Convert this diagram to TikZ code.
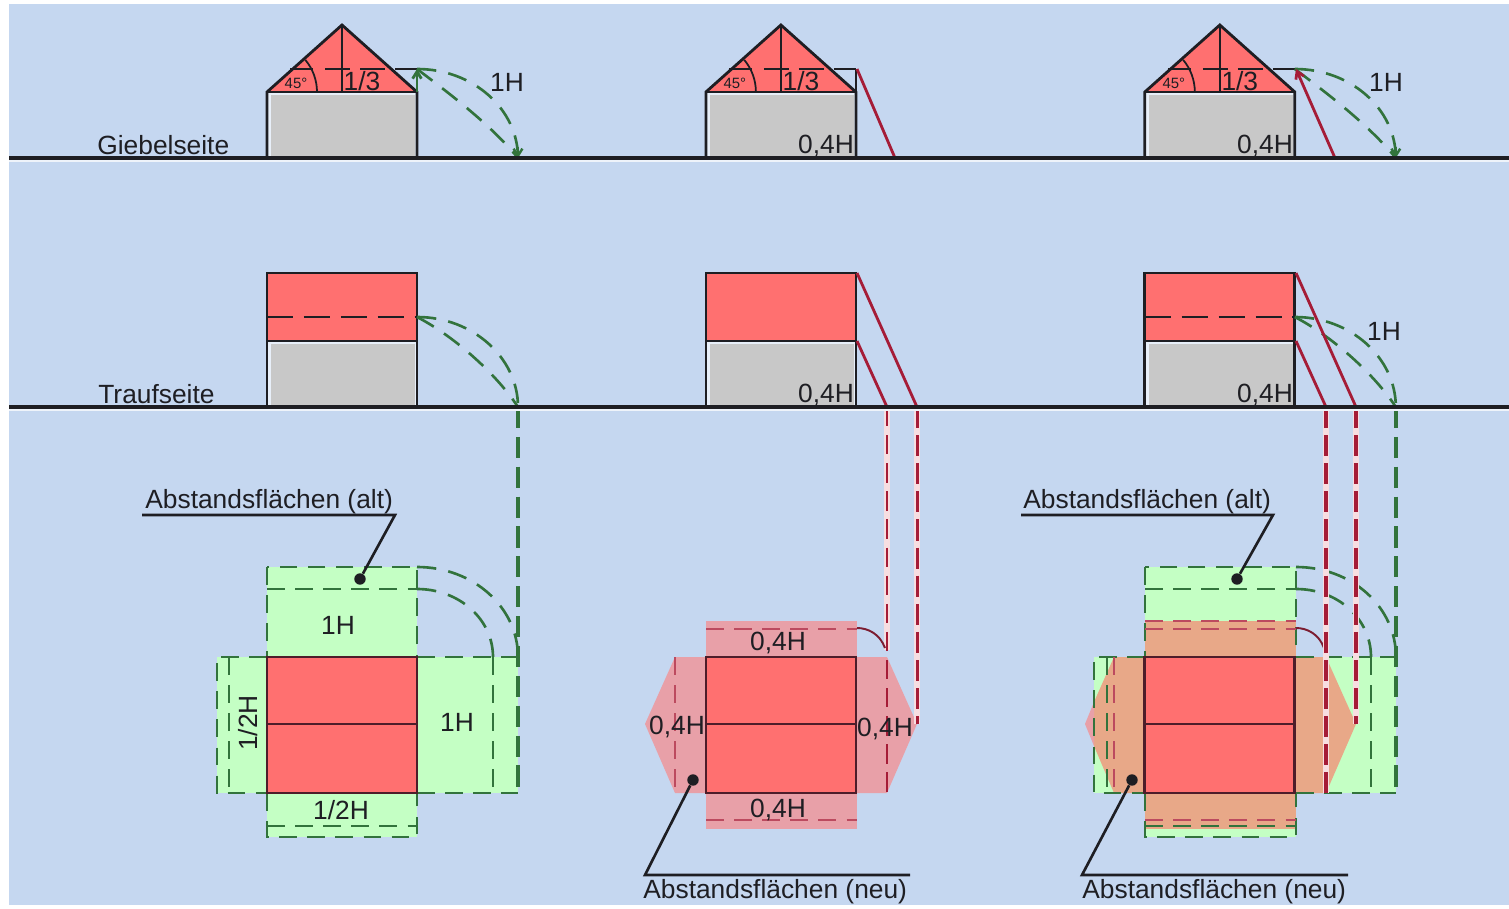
\documentclass[tikz,border=0pt]{standalone}
\usepackage{fontspec}
\setmainfont{Liberation Sans}
\usetikzlibrary{arrows.meta}
\definecolor{bgblue}{RGB}{197,215,240}
\definecolor{roofred}{RGB}{255,112,112}
\definecolor{wallgray}{RGB}{200,200,200}
\definecolor{lgreen}{RGB}{196,255,196}
\definecolor{lpink}{RGB}{232,160,168}
\definecolor{lorange}{RGB}{232,168,136}
\definecolor{dgreen}{RGB}{50,115,60}
\definecolor{dred}{RGB}{165,28,55}
\definecolor{ink}{RGB}{30,30,35}
\tikzset{
  lab/.style={font=\fontsize{15}{15}\selectfont,text=ink,inner sep=0pt},
  labsmall/.style={font=\fontsize{8.5}{9}\selectfont,text=ink,inner sep=0pt},
  outl/.style={draw=ink,line width=1.6pt},
  gdash/.style={draw=dgreen,line width=1.5pt,dash pattern=on 11pt off 7pt},
  gdashthin/.style={draw=dgreen,line width=1.1pt,dash pattern=on 10pt off 6pt},
  gdashbold/.style={draw=dgreen,line width=2pt,dash pattern=on 12pt off 5pt},
  rline/.style={draw=dred,line width=1.6pt},
  rdash/.style={draw=dred,line width=1.1pt,dash pattern=on 11pt off 5pt},
  rdashbold/.style={draw=dred,line width=2.2pt,dash pattern=on 12pt off 4pt},
  pdash/.style={draw=dred!65!lpink,line width=.9pt,dash pattern=on 10pt off 6pt},
  halo/.style={draw=white!65!lpink,line width=3pt},
  leader/.style={draw=ink,line width=1.5pt},
  dotnode/.style={circle,fill=ink,inner sep=0pt,minimum size=6.5pt},
  tip/.style={-{Straight Barb[length=4pt,width=5pt]}}
}
\newcommand{\gablehouse}{%
  \fill[roofred] (267,92) -- (342,25) -- (417,92) -- cycle;
  \fill[white!60!bgblue] (267,92) rectangle (417,158);
  \fill[wallgray] (271,95) rectangle (415,156);
  \draw[outl] (267,158) -- (267,92) -- (342,25) -- (417,92) -- (417,158);
  \draw[outl] (267,92) -- (417,92);
  \draw[outl,line width=1.2pt] (342,25) -- (342,92);
  \draw[outl,line width=1pt] (317,92) arc[start angle=0,end angle=-40,radius=50];
  \draw[outl,line width=1.2pt] (290,69) -- (313,69) (325,69) -- (350,69) (360,69) -- (385,69) (395,69) -- (417,69);
  \node[labsmall] (deg) at (296,83) {45°};
  \node[lab] (third) at (362,81) {1/3};
}
\newcommand{\eavehouse}{%
  \fill[roofred] (267,273) rectangle (417,341);
  \fill[white!60!bgblue] (267,341) rectangle (417,407);
  \fill[wallgray] (271,344) rectangle (415,405);
  \draw[outl] (267,407) -- (267,273) -- (417,273) -- (417,407);
  \draw[outl] (267,341) -- (417,341);
}
\newcommand{\redplan}{%
  \fill[roofred] (267,657) rectangle (417,793);
  \draw[outl,draw=ink!65!dred] (267,657) rectangle (417,793);
  \draw[outl,draw=ink!65!dred] (267,724) -- (417,724);
}
\newcommand{\gablecurves}{%
  \draw[gdash] (417,69) .. controls (473,69) and (518,109) .. (518,158);
  \draw[gdash] (417,69) .. controls (450,94) and (490,124) .. (518,158);
  \draw[dgreen,line width=1.4pt,tip] (518,147) -- (518,158);
  \draw[outl,dash pattern=on 15pt off 6pt,line width=1.2pt] (267,317) -- (417,317);
  \draw[gdash] (417,317) .. controls (473,317) and (518,358) .. (518,407);
  \draw[gdash] (417,317) .. controls (452,335) and (495,372) .. (518,407);
}
\begin{document}
\begin{tikzpicture}[x=0.02cm,y=-0.02cm]
\useasboundingbox (0,0) rectangle (1509,909);
\fill[white] (0,0) rectangle (1509,909);
\fill[bgblue] (9,4) rectangle (1509,905);

% ---------- column 1
\gablehouse
\eavehouse
\draw[dgreen,line width=1.6pt,tip] (417,92) -- (417,69);
\gablecurves

% plan 1
\fill[lgreen] (267,567) rectangle (417,837);
\fill[lgreen] (217,657) rectangle (518,793);
\draw[gdashthin] (267,567) rectangle (417,657);
\draw[gdashthin] (267,589) -- (417,589);
\draw[gdashthin] (267,793) -- (267,837) -- (417,837) -- (417,793);
\draw[gdashthin] (267,826) -- (417,826);
\draw[gdashthin] (267,657) -- (217,657) -- (217,793) -- (267,793);
\draw[gdashthin] (229,657) -- (229,793);
\draw[gdashthin] (417,657) -- (518,657);
\draw[gdashthin] (417,793) -- (518,793);
\draw[gdashthin] (493,657) -- (493,793);
\draw[gdashbold] (518,407) -- (518,793);
\draw[gdash] (417,567) .. controls (473,567) and (518,607) .. (518,657);
\draw[gdash] (417,589) .. controls (459,589) and (493,619) .. (493,657);
\redplan
\node[lab] (a1) at (338,625) {1H};
\node[lab] (a2) at (457,722) {1H};
\node[lab,rotate=90] (a3) at (248,723) {1/2H};
\node[lab] (a4) at (341,810) {1/2H};
\node[lab] (a5) at (507,82) {1H};

% ---------- column 2
\begin{scope}[xshift=8.78cm]
\gablehouse
\eavehouse
\draw[outl,line width=1.2pt] (417,69) -- (417,92);
\end{scope}
\draw[rline] (857,69) -- (895,158);
\draw[rline] (857,273) -- (917,407);
\draw[rline] (857,341) -- (887,407);
\node[lab] (b1) at (826,146) {0,4H};
\node[lab] (b2) at (826,395) {0,4H};
% plan 2
\fill[lpink] (706,621) rectangle (857,829);
\fill[lpink] (706,657) -- (675,657) -- (645,724) -- (675,793) -- (706,793) -- cycle;
\fill[lpink] (857,657) -- (887,657) -- (917,724) -- (887,793) -- (857,793) -- cycle;
\draw[pdash] (706,629) -- (857,629);
\draw[pdash] (706,820) -- (857,820);
\draw[pdash] (675,657) -- (675,793);
\draw[halo] (887,407) -- (887,650);
\draw[halo] (917,407) -- (917,724);
\draw[rdash] (887,407) -- (887,793);
\draw[rdashbold,line width=1.7pt] (917,407) -- (917,724);
\draw[dred!70!ink,line width=1.1pt] (857,628) .. controls (868,628) and (880,634) .. (885,648);
\begin{scope}[xshift=8.78cm]\redplan\end{scope}
\node[lab] (b3) at (778,643) {0,4H};
\node[lab] (b4) at (778,810) {0,4H};
\node[lab] (b5) at (677,727) {0,4H};
\node[lab] (b6) at (885,729) {0,4H};

% ---------- column 3
\begin{scope}[xshift=17.56cm]
\gablehouse
\eavehouse
\gablecurves
\end{scope}
\draw[rline,tip] (1335,158) -- (1296,69);
\draw[rline] (1296,273) -- (1356,407);
\draw[rline] (1296,341) -- (1326,407);
\node[lab] (c1) at (1265,146) {0,4H};
\node[lab] (c2) at (1265,395) {0,4H};
\node[lab] (c3) at (1386,82) {1H};
\node[lab] (c4) at (1384,331) {1H};
% plan 3
\fill[lgreen] (1145,567) rectangle (1296,837);
\fill[lgreen] (1094,657) rectangle (1396,793);
\fill[lorange] (1145,621) rectangle (1296,829);
\fill[lorange] (1145,657) -- (1114,657) -- (1094,702) -- (1094,746) -- (1114,793) -- (1145,793) -- cycle;
\fill[lpink] (1094,702) -- (1085,724) -- (1094,746) -- cycle;
\fill[lorange] (1296,657) -- (1326,657) -- (1356,724) -- (1326,793) -- (1296,793) -- cycle;
\draw[gdashthin] (1145,567) rectangle (1296,657);
\draw[gdashthin] (1145,589) -- (1296,589);
\draw[gdashthin] (1145,793) -- (1145,837) -- (1296,837) -- (1296,793);
\draw[gdashthin] (1145,826) -- (1296,826);
\draw[gdashthin] (1145,657) -- (1094,657) -- (1094,793) -- (1145,793);
\draw[gdashthin] (1107,657) -- (1107,793);
\draw[pdash] (1114,657) -- (1114,793);
\draw[pdash] (1145,621) -- (1296,621);
\draw[pdash] (1145,629) -- (1296,629);
\draw[pdash] (1145,820) -- (1296,820);
\draw[gdashthin] (1296,793) -- (1396,793);
\draw[gdashthin] (1296,657) -- (1396,657);
\draw[gdashthin] (1371,657) -- (1371,793);
\draw[gdashbold] (1396,407) -- (1396,793);
\draw[gdash] (1296,567) .. controls (1352,567) and (1396,607) .. (1396,657);
\draw[gdash] (1296,589) .. controls (1338,589) and (1371,619) .. (1371,657);
\draw[dred!70!ink,line width=1.1pt] (1296,628) .. controls (1307,628) and (1319,634) .. (1324,648);
\draw[halo] (1326,407) -- (1326,793);
\draw[halo] (1356,407) -- (1356,724);
\draw[rdashbold] (1326,407) -- (1326,793);
\draw[rdashbold] (1356,407) -- (1356,724);
\begin{scope}[xshift=17.56cm]\redplan\end{scope}

% ---------- ground lines and side labels
\draw[white!70!bgblue,line width=1.5pt] (9,161) -- (1509,161);
\draw[white!70!bgblue,line width=1.5pt] (9,410) -- (1509,410);
\draw[ink,line width=1.8pt] (9,158) -- (1509,158);
\draw[ink,line width=1.8pt] (9,407) -- (1509,407);
\node[lab,anchor=west] (giebel) at (97,145) {Giebelseite};
\node[lab,anchor=west] (trauf) at (98,394) {Traufseite};

% ---------- leaders
\node[lab,anchor=west] (alt1) at (145,502) {Abstandsflächen (alt)};
\coordinate (alt1l) at (142,515); \coordinate (alt1r) at (395,515);
\node[dotnode] (alt1d) at (360,579) {};
\draw[leader] (alt1l) -- (alt1r) -- (alt1d);
\node[lab,anchor=west] (alt2) at (1023,502) {Abstandsflächen (alt)};
\coordinate (alt2l) at (1021,515); \coordinate (alt2r) at (1273,515);
\node[dotnode] (alt2d) at (1237,579) {};
\draw[leader] (alt2l) -- (alt2r) -- (alt2d);
\node[lab,anchor=west] (neu1) at (643,892) {Abstandsflächen (neu)};
\coordinate (neu1l) at (645,875); \coordinate (neu1r) at (910,875);
\node[dotnode] (neu1d) at (693,780) {};
\draw[leader] (neu1r) -- (neu1l) -- (neu1d);
\node[lab,anchor=west] (neu2) at (1082,892) {Abstandsflächen (neu)};
\coordinate (neu2l) at (1082,875); \coordinate (neu2r) at (1348,875);
\node[dotnode] (neu2d) at (1132,780) {};
\draw[leader] (neu2r) -- (neu2l) -- (neu2d);
\end{tikzpicture}
\end{document}
